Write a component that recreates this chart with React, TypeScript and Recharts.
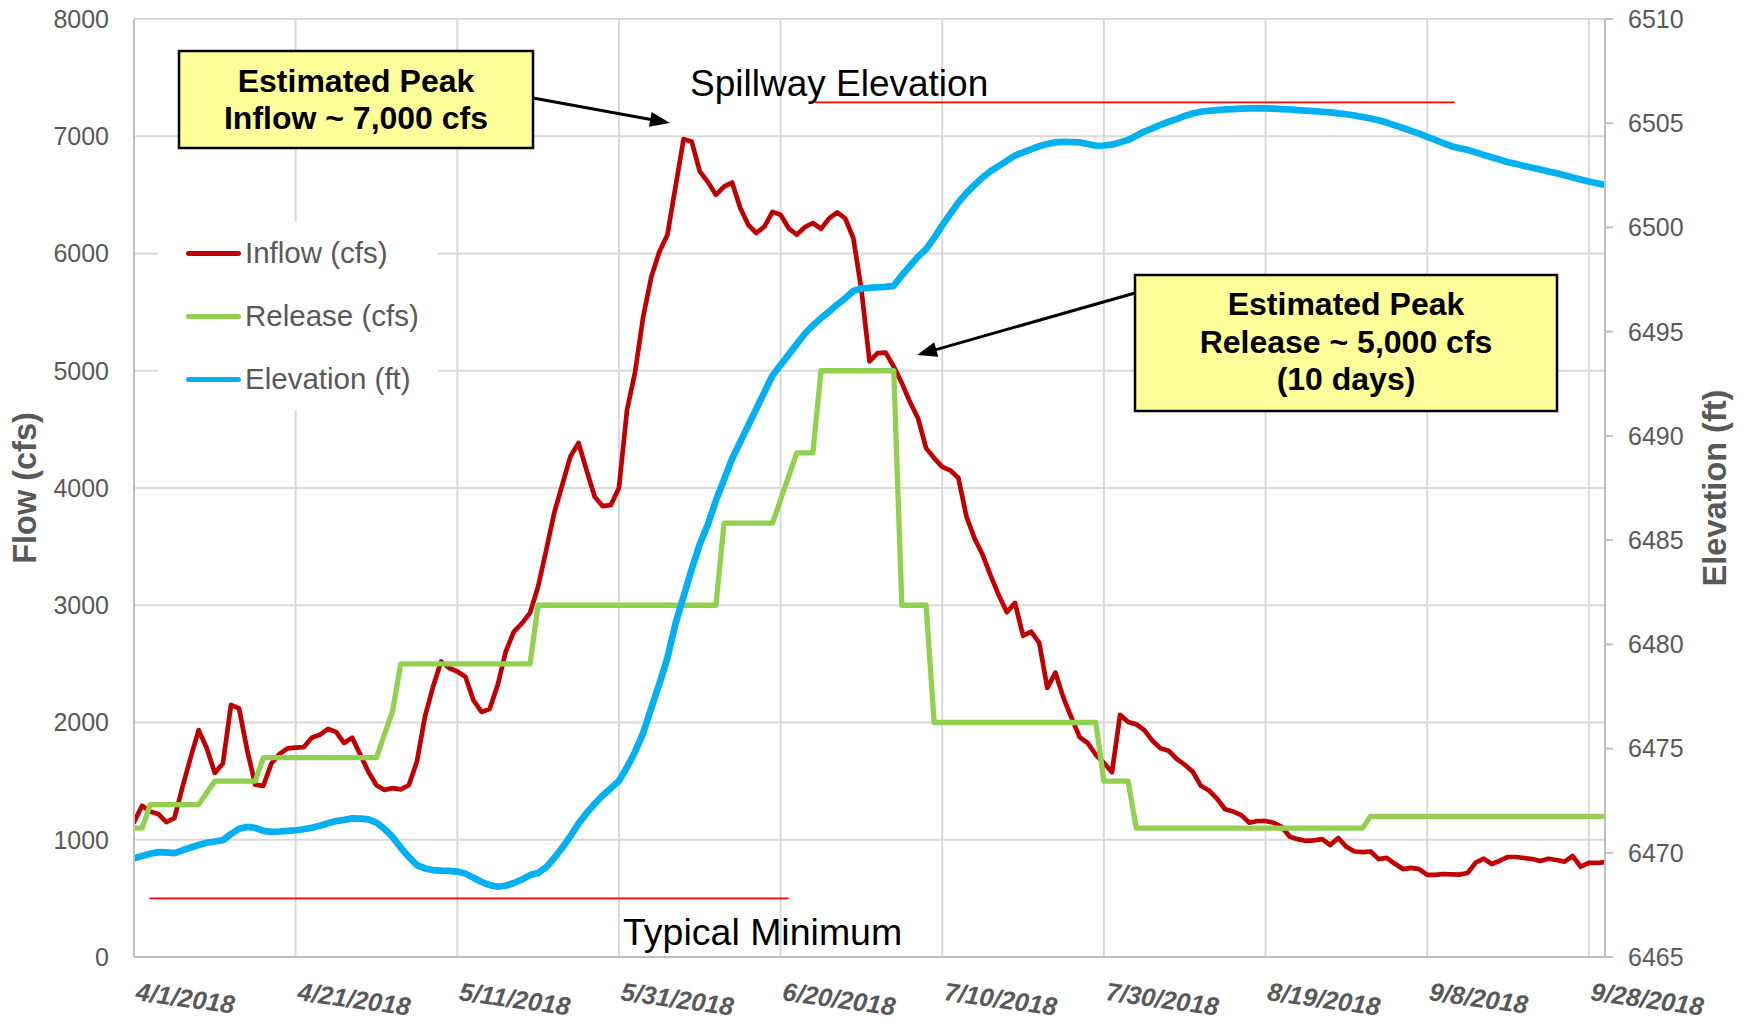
import React from 'react';
import { LineChart, Line, XAxis, YAxis, CartesianGrid, Legend, ReferenceLine } from 'recharts';

const FONT = '"Liberation Sans", Arial, Helvetica, sans-serif';
const GRAY = '#595959';

// x axis: day index from 4/1/2018
const tickDays = [0, 20, 40, 60, 80, 100, 120, 140, 160, 180];
const tickLabels = ['4/1/2018', '4/21/2018', '5/11/2018', '5/31/2018', '6/20/2018', '7/10/2018', '7/30/2018', '8/19/2018', '9/8/2018', '9/28/2018'];
const flowTicks = [0, 1000, 2000, 3000, 4000, 5000, 6000, 7000, 8000];
const elevTicks = [6465, 6470, 6475, 6480, 6485, 6490, 6495, 6500, 6505, 6510];

const inflow = [
  1150, 1290, 1240, 1220, 1150, 1185, 1450, 1700, 1935, 1780,
  1570, 1650, 2150, 2120, 1765, 1470, 1460, 1650, 1730, 1780,
  1785, 1790, 1870, 1895, 1945, 1920, 1825, 1870, 1725, 1580,
  1465, 1425, 1440, 1430, 1465, 1665, 2050, 2305, 2520, 2465,
  2435, 2390, 2190, 2090, 2115, 2320, 2605, 2775, 2845, 2935,
  3160, 3470, 3790, 4030, 4270, 4385, 4150, 3925, 3845, 3855,
  4000, 4665, 4990, 5460, 5800, 6015, 6160, 6570, 6975, 6955,
  6700, 6610, 6500, 6570, 6605, 6390, 6245, 6175, 6230, 6355,
  6330, 6215, 6160, 6225, 6260, 6210, 6300, 6350, 6300, 6130,
  5690, 5080, 5150, 5155, 5035, 4895, 4735, 4595, 4340, 4255,
  4180, 4150, 4085, 3755, 3570, 3430, 3250, 3085, 2940, 3020,
  2740, 2775, 2680, 2295, 2425, 2210, 2040, 1875, 1825, 1725,
  1655, 1575, 2065, 2005, 1985, 1935, 1845, 1780, 1760, 1690,
  1640, 1580, 1460, 1420, 1350, 1260, 1240, 1210, 1145, 1160,
  1160, 1145, 1110, 1025, 1005, 990, 995, 1005, 955, 1015,
  940, 900, 895, 900, 835, 845, 795, 750, 760, 750,
  700, 700, 708, 705, 703, 716, 805, 838, 793, 821,
  853, 853, 844, 836, 819, 838, 827, 813, 861, 770,
  802, 802, 810,
];

const release = [
  1100, 1100, 1300, 1300, 1300, 1300, 1300, 1300, 1300, 1400,
  1500, 1500, 1500, 1500, 1500, 1500, 1700, 1700, 1700, 1700,
  1700, 1700, 1700, 1700, 1700, 1700, 1700, 1700, 1700, 1700,
  1700, 1900, 2100, 2500, 2500, 2500, 2500, 2500, 2500, 2500,
  2500, 2500, 2500, 2500, 2500, 2500, 2500, 2500, 2500, 2500,
  3000, 3000, 3000, 3000, 3000, 3000, 3000, 3000, 3000, 3000,
  3000, 3000, 3000, 3000, 3000, 3000, 3000, 3000, 3000, 3000,
  3000, 3000, 3000, 3700, 3700, 3700, 3700, 3700, 3700, 3700,
  3900, 4100, 4300, 4300, 4300, 5000, 5000, 5000, 5000, 5000,
  5000, 5000, 5000, 5000, 5000, 3000, 3000, 3000, 3000, 2000,
  2000, 2000, 2000, 2000, 2000, 2000, 2000, 2000, 2000, 2000,
  2000, 2000, 2000, 2000, 2000, 2000, 2000, 2000, 2000, 2000,
  1500, 1500, 1500, 1500, 1100, 1100, 1100, 1100, 1100, 1100,
  1100, 1100, 1100, 1100, 1100, 1100, 1100, 1100, 1100, 1100,
  1100, 1100, 1100, 1100, 1100, 1100, 1100, 1100, 1100, 1100,
  1100, 1100, 1100, 1200, 1200, 1200, 1200, 1200, 1200, 1200,
  1200, 1200, 1200, 1200, 1200, 1200, 1200, 1200, 1200, 1200,
  1200, 1200, 1200, 1200, 1200, 1200, 1200, 1200, 1200, 1200,
  1200, 1200, 1200,
];

const elevation = [
  6469.74, 6469.85, 6469.95, 6470.03, 6470.02, 6469.98, 6470.12, 6470.25, 6470.37, 6470.48,
  6470.54, 6470.60, 6470.90, 6471.15, 6471.24, 6471.20, 6471.05, 6471.00, 6471.02, 6471.05,
  6471.08, 6471.13, 6471.20, 6471.30, 6471.42, 6471.52, 6471.58, 6471.65, 6471.64, 6471.60,
  6471.45, 6471.15, 6470.75, 6470.25, 6469.80, 6469.41, 6469.25, 6469.17, 6469.14, 6469.13,
  6469.10, 6469.00, 6468.80, 6468.60, 6468.45, 6468.37, 6468.42, 6468.55, 6468.72, 6468.93,
  6469.03, 6469.30, 6469.75, 6470.25, 6470.80, 6471.40, 6471.90, 6472.35, 6472.75, 6473.10,
  6473.45, 6474.10, 6474.85, 6475.75, 6476.95, 6478.10, 6479.35, 6481.00, 6482.30, 6483.60,
  6484.80, 6485.75, 6486.90, 6487.90, 6488.90, 6489.70, 6490.50, 6491.30, 6492.10, 6492.90,
  6493.40, 6493.90, 6494.40, 6494.90, 6495.30, 6495.65, 6495.96, 6496.30, 6496.60, 6496.95,
  6497.07, 6497.10, 6497.13, 6497.15, 6497.20, 6497.70, 6498.15, 6498.60, 6498.95, 6499.50,
  6500.10, 6500.65, 6501.20, 6501.65, 6502.04, 6502.40, 6502.70, 6502.95, 6503.20, 6503.45,
  6503.60, 6503.75, 6503.90, 6504.00, 6504.08, 6504.11, 6504.10, 6504.08, 6504.00, 6503.92,
  6503.93, 6503.97, 6504.08, 6504.20, 6504.40, 6504.60, 6504.75, 6504.92, 6505.07, 6505.20,
  6505.35, 6505.47, 6505.55, 6505.60, 6505.63, 6505.66, 6505.68, 6505.70, 6505.71, 6505.71,
  6505.71, 6505.70, 6505.68, 6505.66, 6505.63, 6505.60, 6505.58, 6505.55, 6505.52, 6505.47,
  6505.43, 6505.37, 6505.30, 6505.23, 6505.14, 6505.03, 6504.90, 6504.77, 6504.63, 6504.50,
  6504.35, 6504.20, 6504.05, 6503.90, 6503.80, 6503.72, 6503.60, 6503.48, 6503.37, 6503.25,
  6503.13, 6503.05, 6502.95, 6502.86, 6502.78, 6502.68, 6502.60, 6502.50, 6502.40, 6502.30,
  6502.20, 6502.12, 6502.04,
];

const seriesNames = ['Inflow (cfs)', 'Release (cfs)', 'Elevation (ft)'];
const seriesColors = ['#C00000', '#92D050', '#00B0F0'];

const typicalMinimum = 500;
const typicalMinimumSpan = [1.9, 81];
const spillwayElevation = 6506;
const spillwaySpan = [84.3, 163.4];

const data = inflow.map((v, i) => ({ day: i, inflow: v, release: release[i], elevation: elevation[i] }));

const XTick = (props: any) => {
  const { x, y, payload } = props;
  const idx = tickDays.indexOf(payload.value);
  return (
    <g transform={`translate(${x + 1},${y + 43}) rotate(8)`}>
      <text x={0} y={0} fill={GRAY} fontFamily={FONT} fontSize={25.5} fontWeight="bold" fontStyle="italic" textAnchor="start">
        {idx >= 0 ? tickLabels[idx] : ''}
      </text>
    </g>
  );
};

const LegendBox = () => (
  <div style={{ width: 280, height: 190, background: '#fff', position: 'relative' }}>
    {seriesNames.map((n, i) => (
      <div
        key={n}
        style={{ position: 'absolute', left: 28, top: 12 + i * 63, height: 40, display: 'flex', alignItems: 'center', whiteSpace: 'nowrap' }}
      >
        <div style={{ width: 55, height: 5, background: seriesColors[i], borderRadius: 3 }} />
        <span style={{ marginLeft: 4, fontFamily: FONT, fontSize: 29.5, color: GRAY, lineHeight: '40px' }}>{n}</span>
      </div>
    ))}
  </div>
);

const Arrow = ({ x1, y1, x2, y2 }: { x1: number; y1: number; x2: number; y2: number }) => {
  const dx = x2 - x1;
  const dy = y2 - y1;
  const len = Math.sqrt(dx * dx + dy * dy);
  const ux = dx / len;
  const uy = dy / len;
  const head = 20;
  const half = 7.5;
  const bx = x2 - ux * head;
  const by = y2 - uy * head;
  const px = -uy;
  const py = ux;
  return (
    <g>
      <line x1={x1} y1={y1} x2={bx + ux * 2} y2={by + uy * 2} stroke="#000" strokeWidth={3} />
      <polygon points={`${x2},${y2} ${bx + px * half},${by + py * half} ${bx - px * half},${by - py * half}`} fill="#000" />
    </g>
  );
};

const Overlay = () => (
  <svg width={1750} height={1023} style={{ position: 'absolute', left: 0, top: 0, pointerEvents: 'none' }}>
    <g fontFamily={FONT}>
      <Arrow x1={533} y1={98} x2={670} y2={123} />
      <rect x={179} y={51} width={354} height={97} fill="#FFFF99" stroke="#000" strokeWidth={2.5} />
      <text x={356} y={92} textAnchor="middle" fontWeight="bold" fontSize={32} fill="#000">Estimated Peak</text>
      <text x={356} y={129} textAnchor="middle" fontWeight="bold" fontSize={32} fill="#000">Inflow ~ 7,000 cfs</text>

      <Arrow x1={1135} y1={293} x2={917} y2={355} />
      <rect x={1135} y={275} width={422} height={136} fill="#FFFF99" stroke="#000" strokeWidth={2.5} />
      <text x={1346} y={315} textAnchor="middle" fontWeight="bold" fontSize={32} fill="#000">Estimated Peak</text>
      <text x={1346} y={352.5} textAnchor="middle" fontWeight="bold" fontSize={32} fill="#000">Release ~ 5,000 cfs</text>
      <text x={1346} y={390} textAnchor="middle" fontWeight="bold" fontSize={32} fill="#000">(10 days)</text>

      <text x={690} y={96} fontSize={37} fill="#000">Spillway Elevation</text>
      <text x={623} y={945} fontSize={37.5} fill="#000">Typical Minimum</text>
    </g>
  </svg>
);

export default function App() {
  return (
    <div style={{ position: 'absolute', left: 0, top: 0, width: 1750, height: 1023, background: '#fff', overflow: 'hidden' }}>
      <LineChart
        width={1750}
        height={1023}
        data={data}
        margin={{ top: 19, right: 0, bottom: 0, left: 0 }}
        style={{ fontFamily: FONT }}
      >
        <CartesianGrid yAxisId="left" stroke="#D9D9D9" strokeWidth={2} />
        <XAxis
          dataKey="day"
          type="number"
          domain={[0, 182]}
          ticks={tickDays}
          interval={0}
          height={66}
          tickSize={0}
          tickMargin={0}
          tickLine={false}
          axisLine={{ stroke: '#BFBFBF', strokeWidth: 2 }}
          tick={<XTick />}
          allowDataOverflow
        />
        <YAxis
          yAxisId="left"
          orientation="left"
          domain={[0, 8000]}
          ticks={flowTicks}
          interval={0}
          width={134}
          tickSize={0}
          tickMargin={25}
          tickLine={false}
          axisLine={{ stroke: '#BFBFBF', strokeWidth: 2 }}
          tick={{ fill: GRAY, fontSize: 25, fontFamily: FONT }}
          label={(props: any) => {
            const vb = props.viewBox || { x: 0, y: 19, width: 134, height: 938 };
            const cx = vb.x + 25;
            const cy = vb.y + vb.height / 2;
            return (
              <text x={cx} y={cy} transform={`rotate(-90, ${cx}, ${cy})`} textAnchor="middle" dominantBaseline="central" fill={GRAY} fontFamily={FONT} fontWeight="bold" fontSize={32.5}>
                Flow (cfs)
              </text>
            );
          }}
        />
        <YAxis
          yAxisId="right"
          orientation="right"
          domain={[6465, 6510]}
          ticks={elevTicks}
          interval={0}
          width={145}
          tickSize={8}
          tickMargin={15}
          tickLine={{ stroke: '#BFBFBF', strokeWidth: 2 }}
          axisLine={{ stroke: '#BFBFBF', strokeWidth: 2 }}
          tick={{ fill: GRAY, fontSize: 25, fontFamily: FONT }}
          label={(props: any) => {
            const vb = props.viewBox || { x: 1605, y: 19, width: 145, height: 938 };
            const cx = vb.x + 110;
            const cy = vb.y + vb.height / 2;
            return (
              <text x={cx} y={cy} transform={`rotate(-90, ${cx}, ${cy})`} textAnchor="middle" dominantBaseline="central" fill={GRAY} fontFamily={FONT} fontWeight="bold" fontSize={32.5}>
                Elevation (ft)
              </text>
            );
          }}
        />
        <ReferenceLine
          yAxisId="left"
          segment={[{ x: typicalMinimumSpan[0], y: typicalMinimum }, { x: typicalMinimumSpan[1], y: typicalMinimum }]}
          stroke="#FF0000"
          strokeWidth={1.6}
        />
        <ReferenceLine
          yAxisId="right"
          segment={[{ x: spillwaySpan[0], y: spillwayElevation }, { x: spillwaySpan[1], y: spillwayElevation }]}
          stroke="#FF0000"
          strokeWidth={1.6}
        />
        <Line yAxisId="left" type="linear" dataKey="inflow" name={seriesNames[0]} stroke={seriesColors[0]} strokeWidth={4.7} dot={false} isAnimationActive={false} strokeLinejoin="round" strokeLinecap="round" />
        <Line yAxisId="left" type="linear" dataKey="release" name={seriesNames[1]} stroke={seriesColors[1]} strokeWidth={5.3} dot={false} isAnimationActive={false} strokeLinejoin="round" strokeLinecap="round" />
        <Line yAxisId="right" type="linear" dataKey="elevation" name={seriesNames[2]} stroke={seriesColors[2]} strokeWidth={6.7} dot={false} isAnimationActive={false} strokeLinejoin="round" strokeLinecap="round" />
        <Legend
          layout="vertical"
          align="center"
          verticalAlign="middle"
          wrapperStyle={{ left: 158, top: 221, width: 280, height: 190 }}
          content={() => <LegendBox />}
        />
      </LineChart>
      <Overlay />
    </div>
  );
}
